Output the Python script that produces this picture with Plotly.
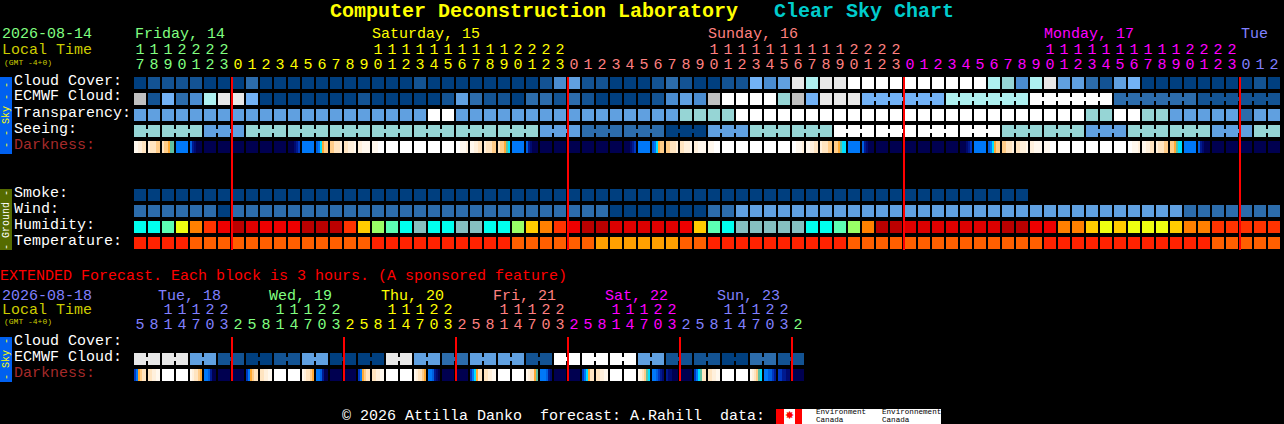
import plotly.graph_objects as go

W, H = 1284, 424
FONT = "Liberation Mono"

# palettes (index = value in the rows below)
cloud_colors = ["#003f7f", "#135393", "#2c6cab", "#4a8cd0", "#60a0e0", "#72b2f6",
                "#aef0f0", "#96d5d5", "#c0c0c0", "#e8e8e8", "#ffffff"]
humidity_colors = ["#00ffee", "#5cffb4", "#99ff66", "#eeff11", "#ffcc00", "#ff8000",
                   "#ff3300", "#ee0000", "#dd0000", "#bb0000", "#85c0c0"]
temp_colors = ["#ff2200", "#ff5f00", "#ffa000"]
dark_colors = ["#ffffff", "#fff8ee", "#fff0dc", "#ffe4c0", "#ffcc88", "#ffaa33", "#60c0a0",
               "#00e0ff", "#0078f8", "#0060e0", "#0038c0", "#001a90", "#000a70", "#000050"]

# 1 hour forecast
cloud_cover = [0,1,1,1,1,0,0,0,2,0,
               0,0,0,0,0,0,0,0,0,0,
               1,0,0,0,0,0,0,0,0,1,
               3,4,1,1,0,0,0,1,2,1,
               0,0,1,1,5,3,4,9,6,9,
               9,10,10,10,10,10,10,10,10,10,
               10,6,7,3,6,9,4,4,2,1,
               4,5,0,0,0,0,0,0,0,0,
               1,0]
ecmwf_cloud = [8,1,5,2,3,6,9,9,5,0,
               0,0,0,0,0,0,1,0,0,0,
               0,0,1,4,2,1,1,0,2,2,
               1,2,1,0,0,0,0,1,3,4,
               3,8,10,10,10,10,7,8,5,9,
               9,9,5,5,5,5,5,5,6,6,
               6,6,6,6,10,10,10,10,10,10,
               2,2,2,2,2,2,1,1,1,1,
               1,1]
transparency = [4,4,4,4,4,4,4,4,4,4,
                4,4,4,4,4,4,4,4,4,4,
                4,10,10,4,4,4,4,4,4,4,
                4,4,4,4,4,4,4,4,4,7,
                7,7,7,10,10,10,10,10,10,10,
                10,10,10,10,10,10,10,10,10,10,
                10,10,10,10,10,10,10,10,7,7,
                10,10,7,7,4,4,4,4,4,2,
                4,4]
seeing = [7,7,7,7,7,4,4,4,7,7,
          7,7,7,7,7,7,7,7,7,7,
          7,7,7,7,7,7,7,7,7,4,
          4,4,2,2,2,2,2,2,0,0,
          0,4,4,4,7,7,7,7,7,7,
          10,10,10,10,10,10,10,10,10,10,
          10,10,7,7,7,7,7,7,4,4,
          4,7,7,7,7,7,7,4,4,4,
          7,7]
smoke = [0]*64 + [None]*18
wind = [2,2,2,2,2,2,0,2,2,2,
        2,2,2,2,2,2,2,2,2,2,
        2,2,2,2,2,2,2,2,2,2,
        2,2,2,2,0,0,0,0,0,0,
        0,2,2,4,4,4,4,4,4,4,
        4,4,4,4,4,4,4,4,4,4,
        4,4,4,4,4,4,4,4,4,4,
        4,4,4,4,4,2,2,2,2,2,
        2,2]
humidity = [0,0,1,3,5,6,7,9,8,7,
            7,7,9,9,9,6,4,2,1,0,
            10,0,0,10,10,0,0,2,4,5,
            6,7,9,9,8,8,8,8,8,7,
            4,1,0,10,10,10,10,10,0,0,
            1,2,5,9,9,8,8,8,8,8,
            8,8,9,9,7,7,5,5,4,3,
            4,3,3,3,4,5,5,6,6,6,
            6,6]
temperature = [0,0,0,0,1,1,1,1,1,1,
               1,1,1,1,1,1,1,0,0,0,
               0,0,0,0,0,0,0,1,1,1,
               1,1,1,2,2,2,2,2,2,1,
               1,0,0,0,0,0,0,0,0,0,
               0,1,1,1,1,1,1,1,1,1,
               1,1,1,1,1,0,0,0,0,0,
               0,0,0,0,0,0,0,1,1,1,
               1,1]
# six readings across each block, hex index into dark_colors
darkness = ["112233","233344","344566","888888","9bcddd",
            "dddddd","dddddd","dddddd","dddddd","dddddd","dddddd",
            "dddcba","888888","987544","443332","332221","221111","111000",
            "000000","000000","000000","000000","000000","001112",
            "112233","233344","344567","888888","9bcddd",
            "dddddd","dddddd","dddddd","dddddd","dddddd","dddddd",
            "dddcba","888888","987544","443332","332221","221111","111000",
            "000000","000000","000000","000000","000000","001112",
            "112233","233344","445677","888888","9bcddd",
            "dddddd","dddddd","dddddd","dddddd","dddddd","dddddd",
            "dddcba","888888","987544","443332","332221","221111","111000",
            "000000","000000","000000","000000","000000","001112",
            "112233","233344","445677","888888","9bcddd",
            "dddddd","dddddd","dddddd","dddddd","dddddd"]
# runs of blocks that belong to one model value
seeing_runs = [2] + [3]*26 + [2]
ecmwf_runs = [1]*52 + [6]*5

hour_tens = ("1112222" + "          11111111112222"*3 + "   ")
hour_units = ("7890123" + "012345678901234567890123"*3 + "012")
hour_colors = ["#80ff80"]*7 + ["#ffff00"]*24 + ["#ff8080"]*24 + ["#ff00ff"]*24 + ["#8080ff"]*3
midnights = [7, 31, 55, 79]

# 3 hour extended forecast
ext_ecmwf = [9,9,9,9,4,4,1,1,0,0,1,1,4,4,0,0,0,0,9,9,4,4,2,2,
             4,4,4,4,1,1,10,10,10,10,10,10,4,4,1,1,1,1,0,0,2,2,1,1]
ext_darkness = ["a85433","332211","000000","000000","123345","889bdd","dddddd","dddddd",
                "a85433","332211","000000","000000","123345","889bdd","dddddd","dddddd",
                "a85433","332211","000000","000000","123345","889bcd","dddddd","dddddd",
                "a87533","332211","000000","000000","123356","8889bc","dddddd","dddddd",
                "a87533","332211","000000","000000","123467","889abc","bccddd","dddddd",
                "a87633","332211","000000","000000","123467","8899ab","aabbcc","dddddd"]
ext_runs = [2]*24
ext_tens = "  11122" + "   11122"*5 + " "
ext_units = "58147032"*6
ext_colors = ["#8080ff"]*7 + ["#80ff80"]*8 + ["#ffff00"]*8 + ["#ff8080"]*8 + ["#ff00ff"]*8 + ["#8080ff"]*8 + ["#80ff80"]
ext_midnights = [7, 15, 23, 31, 39, 47]

main_rows = [(cloud_cover, cloud_colors, 0), (ecmwf_cloud, cloud_colors, 1),
             (transparency, cloud_colors, 2), (seeing, cloud_colors, 3),
             (smoke, cloud_colors, 7), (wind, cloud_colors, 8),
             (humidity, humidity_colors, 9), (temperature, temp_colors, 10)]

fig = go.Figure()

# x axis: block number, 14 px each, y axis: row number, 16 px each
def px_y(py):
    return (py - 83) / 16


def scale(colors):
    return [[k / (len(colors) - 1), c] for k, c in enumerate(colors)]


def add_row(values, colors, row):
    fig.add_trace(go.Heatmap(z=[values], x=list(range(len(values))), y=[row], xgap=2, ygap=4,
                             zmin=0, zmax=len(colors) - 1, colorscale=scale(colors),
                             showscale=False, hoverinfo="skip"))


def add_darkness(cells, row):
    # every block split in six with an empty brick after it
    edges, z = [], []
    for i, cell in enumerate(cells):
        for k, ch in enumerate(cell):
            edges.append(i - 6 / 14 + k / 7)
            z.append(int(ch, 16))
        edges.append(i + 6 / 14)
        z.append(None)
    edges.append(len(cells) - 6 / 14)
    fig.add_trace(go.Heatmap(z=[z], x=edges, y=[row], ygap=4, zmin=0, zmax=len(dark_colors) - 1,
                             colorscale=scale(dark_colors), showscale=False, hoverinfo="skip"))


def add_bridges(values, runs, row):
    start = 0
    for n in runs:
        if n > 1:
            fig.add_trace(go.Scatter(x=[start, start + n - 1], y=[row, row], mode="lines",
                                     line=dict(color=cloud_colors[values[start]], width=4),
                                     hoverinfo="skip"))
        start += n


def add_digits(chars, colors, py):
    idx = [i for i, c in enumerate(chars) if c != " "]
    fig.add_trace(go.Scatter(x=idx, y=[px_y(py)] * len(idx), mode="text",
                             text=[chars[i] for i in idx],
                             textfont=dict(family=FONT, size=15, color=[colors[i] for i in idx]),
                             hoverinfo="skip"))


def add_midnights(idx, top, bottom):
    xs, ys = [], []
    for i in idx:
        xs += [i - 3 / 7, i - 3 / 7, None]
        ys += [px_y(top), px_y(bottom), None]
    fig.add_trace(go.Scatter(x=xs, y=ys, mode="lines", line=dict(color="#ff0000", width=2),
                             hoverinfo="skip"))


def label(x, y, text, color="#ffffff", size=15, bold=False, angle=0, anchor="left"):
    fig.add_annotation(xref="paper", yref="paper", x=x / W, y=1 - y / H, text=text, showarrow=False,
                       xanchor=anchor, yanchor="middle", borderpad=0, textangle=angle,
                       font=dict(family=FONT, size=size, color=color, weight="bold" if bold else "normal"))


def box(x0, y0, x1, y1, color):
    fig.add_shape(type="rect", xref="paper", yref="paper", x0=x0 / W, x1=x1 / W, y0=1 - y0 / H, y1=1 - y1 / H,
                  fillcolor=color, line_width=0, layer="below")


for values, colors, row in main_rows:
    add_row(values, colors, row)
add_darkness(darkness, 4)
add_bridges(ecmwf_cloud, ecmwf_runs, 1)
add_bridges(seeing, seeing_runs, 3)
add_digits(hour_tens, hour_colors, 50)
add_digits(hour_units, hour_colors, 65)
add_midnights(midnights, 77, 250)

add_row(ext_ecmwf, cloud_colors, px_y(359))
add_darkness(ext_darkness, px_y(375))
add_bridges(ext_ecmwf, ext_runs, px_y(359))
add_digits(ext_tens, ext_colors, 310)
add_digits(ext_units, ext_colors, 325)
add_midnights(ext_midnights, 337, 381)

# title
label(329, 12, "Computer Deconstruction Laboratory", "#ffff00", 20, True)
label(773, 12, "Clear Sky Chart", "#00cccc", 20, True)

# headers
label(1, 35, "2026-08-14", "#80ff80")
label(1, 50, "Local Time", "#cccc00")
label(3, 62, "(GMT -4+0)", "#cccc00", 8)
label(134, 35, "Friday, 14", "#80ff80")
label(371, 35, "Saturday, 15", "#ffff00")
label(707, 35, "Sunday, 16", "#ff8080")
label(1043, 35, "Monday, 17", "#ff00ff")
label(1240, 35, "Tue", "#8080ff")

for text, py in [("Cloud Cover:", 81), ("ECMWF Cloud:", 97), ("Transparency:", 113), ("Seeing:", 129),
                 ("Smoke:", 193), ("Wind:", 209), ("Humidity:", 225), ("Temperature:", 241),
                 ("Cloud Cover:", 341), ("ECMWF Cloud:", 357)]:
    label(13, py, text)
label(13, 145, "Darkness:", "#a52a2a")
label(13, 373, "Darkness:", "#a52a2a")

label(-1, 276, "EXTENDED Forecast. Each block is 3 hours. (A sponsored feature)", "#ff0000")
label(1, 296, "2026-08-18", "#8080ff")
label(1, 310, "Local Time", "#cccc00")
label(3, 321, "(GMT -4+0)", "#cccc00", 8)
for text, x, color in [("Tue, 18", 157, "#8080ff"), ("Wed, 19", 268, "#80ff80"), ("Thu, 20", 380, "#ffff00"),
                       ("Fri, 21", 492, "#ff8080"), ("Sat, 22", 604, "#ff00ff"), ("Sun, 23", 716, "#8080ff")]:
    label(x, 296, text, color)

# side bars
box(0, 77, 12, 154, "#0060f0")
box(0, 189, 12, 250, "#556b00")
box(0, 337, 12, 382, "#0060f0")
label(6, 115, "- - Sky - -", "#ffff00", 10, angle=-90, anchor="center")
label(6, 220, "- Ground -", "#ffffff", 10, angle=-90, anchor="center")
label(6, 359, "- Sky -", "#ffff00", 10, angle=-90, anchor="center")

# footer with the data logo
label(341, 416, "© 2026 Attilla Danko  forecast: A.Rahill  data:")
box(776, 409, 941, 424, "#ffffff")
box(776, 409, 784, 424, "#ff0000")
box(795, 409, 802, 424, "#ff0000")
label(789.5, 416, "✸", "#ff0000", 11, anchor="center")
label(815, 412, "Environment", "#000000", 7.6)
label(815, 420, "Canada", "#000000", 7.6)
label(881, 412, "Environnement", "#000000", 7.6)
label(881, 420, "Canada", "#000000", 7.6)

fig.update_xaxes(range=[-10, (W - 140) / 14], visible=False, fixedrange=True)
fig.update_yaxes(range=[(H - 83) / 16, -83 / 16], visible=False, fixedrange=True)
fig.update_layout(width=W, height=H, margin=dict(l=0, r=0, t=0, b=0), paper_bgcolor="#000000",
                  plot_bgcolor="#000000", showlegend=False)

# the default page has an 8px body margin
fig.write_html("out.html", config={"displayModeBar": False},
               post_script="document.body.style.margin='0';document.body.style.overflow='hidden';document.body.style.background='#000';")
